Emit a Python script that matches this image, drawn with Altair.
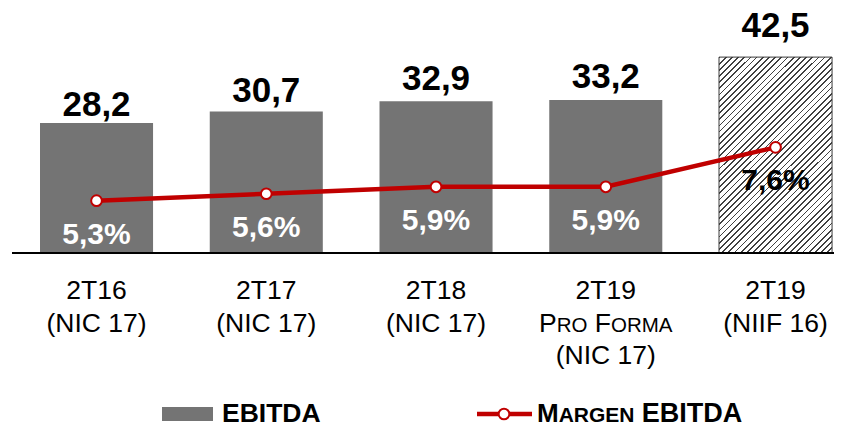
import altair as alt
import pandas as pd

# ---------------- data ----------------
categories = ["2T16", "2T17", "2T18", "2T19 PF", "2T19 NIIF"]
label_line1 = ["2T16", "2T17", "2T18", "2T19", "2T19"]
label_line2 = ["(NIC 17)", "(NIC 17)", "(NIC 17)", "", "(NIIF 16)"]
label_line3 = ["", "", "", "(NIC 17)", ""]
ebitda = [28.2, 30.7, 32.9, 33.2, 42.5]
margin = [5.3, 5.6, 5.9, 5.9, 7.6]

FONT = "Liberation Sans"
GREY = "#747474"
RED = "#C00000"

W, H = 826, 416

df = pd.DataFrame({
    "cat": categories,
    "l1": label_line1,
    "l2": label_line2,
    "l3": label_line3,
    "ebitda": ebitda,
    "margin": margin,
})
df["ebitda_txt"] = [f"{v:.1f}".replace(".", ",") for v in ebitda]
df["margin_txt"] = [f"{v:.1f}".replace(".", ",") + "%" for v in margin]

last = categories[-1]

x_enc = alt.X("cat:N", sort=categories, axis=None,
              scale=alt.Scale(range=[32, 32 + 169.75 * (5 - 0.334)],
                              paddingInner=0.334, paddingOuter=0, round=False))
BAR_DOM = [-37.09, 53.15]
y_bar = alt.Y("ebitda:Q", axis=None,
              scale=alt.Scale(domain=BAR_DOM, nice=False, zero=False))
y_lab = alt.Y("ebitda:Q", axis=None,
              scale=alt.Scale(domain=[-27.77, 47.59], nice=False, zero=False))
y_mar = alt.Y("margin:Q", axis=None,
              scale=alt.Scale(domain=[-4.325, 13.606], nice=False, zero=False))

base = alt.Chart(df)

# hatched gradient
N = 50
stops = []
for i in range(N):
    a = i / N
    b = (i + 0.28) / N
    c = (i + 1) / N
    stops += [
        alt.GradientStop(offset=a, color="#404040"),
        alt.GradientStop(offset=b, color="#404040"),
        alt.GradientStop(offset=b, color="#ffffff"),
        alt.GradientStop(offset=c, color="#ffffff"),
    ]
hatch = alt.LinearGradient(gradient="linear", stops=stops,
                           x1=0, y1=0, x2=0.682, y2=1.183)

bars = base.transform_filter(alt.datum.cat != last).mark_bar(
    color=GREY).encode(x=x_enc, y=y_bar, y2=alt.datum(0))
hbar = base.transform_filter(alt.datum.cat == last).mark_bar(
    fill=hatch, stroke="#3a3a3a", strokeWidth=1).encode(x=x_enc, y=y_bar, y2=alt.datum(0))

axis_line = base.mark_rule(color="black", strokeWidth=2).encode(
    y=alt.Y(datum=0, scale=alt.Scale(domain=BAR_DOM, nice=False, zero=False), axis=None),
    x=alt.value(4), x2=alt.value(W))

bar_layer = alt.layer(bars, hbar, axis_line)

bar_labels = base.mark_text(font=FONT, fontSize=35, fontWeight="bold",
                            baseline="alphabetic", dy=1, color="black").encode(
    x=x_enc, y=y_lab, text="ebitda_txt:N")

line = base.mark_line(color=RED, strokeWidth=4.5).encode(x=x_enc, y=y_mar)
points = base.mark_point(shape="circle", filled=True, fill="white", stroke=RED,
                         strokeWidth=2, size=115, opacity=1).encode(x=x_enc, y=y_mar)
pct_labels = base.mark_text(font=FONT, fontSize=30, fontWeight="bold",
                            baseline="alphabetic", dy=43).encode(
    x=x_enc, y=y_mar, text="margin_txt:N",
    color=alt.condition(alt.datum.cat == last, alt.value("black"), alt.value("white")))

line_layer = alt.layer(line, points, pct_labels)

# category labels
CAT_FS = 26.5


def cat_line(field, ypix):
    return base.mark_text(font=FONT, fontSize=CAT_FS, baseline="alphabetic", color="black").encode(
        x=x_enc, y=alt.value(ypix), text=f"{field}:N")


lab1 = cat_line("l1", 291)
lab2 = cat_line("l2", 324)
lab3 = cat_line("l3", 356)

# small caps "PRO FORMA" pieces
BIG, SMALL = 26.5, 20.5
adv = {"P": .667, "R": .722, "O": .778, " ": .278, "F": .611, "M": .833, "A": .667}
pieces = [("P", BIG), ("RO", SMALL), (" ", BIG), ("F", BIG), ("ORMA", SMALL)]
widths = [sum(adv[ch] for ch in t) * s for t, s in pieces]
total = sum(widths)
pf_layers = []
xpos = -total / 2
pf_df = pd.DataFrame({"cat": [categories[3]]})
for (t, s), w in zip(pieces, widths):
    if t.strip():
        pf_layers.append(alt.Chart(pf_df).mark_text(
            font=FONT, fontSize=s, baseline="alphabetic", align="left", dx=xpos,
            color="black", text=t).encode(x=x_enc, y=alt.value(324)))
    xpos += w

# legend
one = pd.DataFrame({"a": [0]})
LY = 414
leg_rect = alt.Chart(one).mark_rect(color=GREY).encode(
    x=alt.value(154), x2=alt.value(205), y=alt.value(399), y2=alt.value(413))
leg_t1 = alt.Chart(one).mark_text(font=FONT, fontSize=26.5, fontWeight="bold",
                                  align="left", baseline="alphabetic", text="EBITDA",
                                  color="black").encode(x=alt.value(214), y=alt.value(LY))
leg_line = alt.Chart(one).mark_rule(color=RED, strokeWidth=4.5).encode(
    x=alt.value(469), x2=alt.value(524), y=alt.value(406))
leg_pt = alt.Chart(one).mark_point(shape="circle", filled=True, fill="white", stroke=RED,
                                   strokeWidth=2, size=115, opacity=1).encode(
    x=alt.value(496), y=alt.value(406))
badv = {"M": .833, "A": .722, "R": .722, "G": .778, "E": .667, "N": .722, " ": .278}
leg_pieces = [("M", 26), ("ARGEN", 21), (" ", 26), ("EBITDA", 27)]
lx = 529
leg_texts = []
for t, s in leg_pieces:
    if t.strip():
        leg_texts.append(alt.Chart(one).mark_text(
            font=FONT, fontSize=s, fontWeight="bold", align="left", baseline="alphabetic",
            text=t, color="black").encode(x=alt.value(lx), y=alt.value(LY)))
    lx += sum(badv.get(ch, 0.7) for ch in t) * s

chart = alt.layer(
    bar_layer, bar_labels, line_layer, lab1, lab2, lab3, *pf_layers,
    leg_rect, leg_t1, leg_line, leg_pt, *leg_texts
).resolve_scale(y="independent").properties(
    width=W, height=H,
    padding=0,
    autosize=alt.AutoSizeParams(type="none"),
    background="white",
).configure_view(stroke=None)

chart.save("out.html", embed_options={"renderer": "svg", "actions": False})
